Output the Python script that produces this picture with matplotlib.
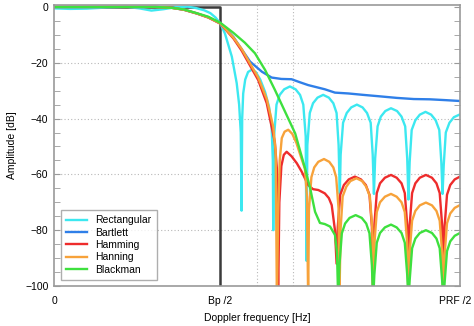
import matplotlib
matplotlib.use('Agg')
import matplotlib.pyplot as plt
from matplotlib.transforms import ScaledTranslation

####################################
# Data
# x is Doppler frequency as a fraction of PRF/2, y is amplitude in dB
####################################

bp_half = 0.409
x_ticks = [0.0, bp_half, 1.0]
x_ticklabels = ['0', 'Bp /2', 'PRF /2']
vgrid = [0.5, 0.589]

ideal_x = [0.0, bp_half, bp_half]
ideal_db = [0.0, 0.0, -100.0]

rect_x = [0.00, 0.04, 0.08, 0.13, 0.18, 0.21, 0.24, 0.27, 0.30, 0.33, 0.35, 0.37, 0.385, 0.398, 0.41, 0.421, 0.438, 0.450, 0.456, 0.460, 0.462,
          0.4635, 0.466, 0.471, 0.478, 0.487, 0.497, 0.508, 0.520, 0.530, 0.536, 0.539, 0.540,
          0.542, 0.548, 0.556, 0.567, 0.581, 0.595, 0.606, 0.614, 0.620, 0.622,
          0.624, 0.630, 0.638, 0.649, 0.663, 0.677, 0.688, 0.696, 0.701, 0.704,
          0.706, 0.712, 0.721, 0.732, 0.746, 0.760, 0.771, 0.780, 0.785, 0.788,
          0.791, 0.797, 0.805, 0.816, 0.830, 0.845, 0.856, 0.865, 0.870, 0.873,
          0.876, 0.881, 0.890, 0.901, 0.915, 0.929, 0.940, 0.949, 0.954, 0.957,
          0.960, 0.965, 0.974, 0.985, 1.000]
rect_db = [-0.5, -0.7, -0.6, -0.2, 0.0, -0.5, -1.3, -0.8, -0.1, 0.1, -0.4, -1.2, -2.2, -3.8, -6.0, -9.5, -17.8, -27.3, -35.0, -45.0, -73.0,
           -40.0, -31.0, -26.0, -23.3, -22.5, -23.3, -26.0, -30.5, -36.0, -43.0, -55.0, -80.0,
           -46.5, -35.0, -31.5, -29.5, -28.5, -29.5, -31.5, -35.0, -46.5, -91.0,
           -49.5, -38.0, -34.5, -32.5, -31.5, -32.5, -34.5, -38.0, -49.5, -67.0,
           -53.0, -41.5, -38.0, -36.0, -35.0, -36.0, -38.0, -41.5, -53.0, -67.0,
           -54.3, -42.8, -39.3, -37.3, -36.3, -37.3, -39.3, -42.8, -54.3, -69.0,
           -55.6, -44.1, -40.6, -38.6, -37.6, -38.6, -40.6, -44.1, -55.6, -67.0,
           -56.5, -45.0, -41.5, -39.5, -38.5]

bart_x = [0.00, 0.25, 0.29, 0.32, 0.351, 0.38, 0.41, 0.442, 0.483, 0.512, 0.536, 0.56, 0.585, 0.606, 0.626,
          0.667, 0.692, 0.725, 0.761, 0.80, 0.845, 0.886, 0.926, 0.965, 1.00]
bart_db = [0.0, 0.0, -0.3, -1.0, -2.3, -3.7, -5.9, -10.8, -19.6, -23.2, -25.3, -25.8, -25.9, -27.0, -28.0,
           -29.5, -30.7, -31.0, -31.5, -32.0, -32.6, -33.0, -33.1, -33.4, -33.7]

ham_x = [0.00, 0.25, 0.29, 0.32, 0.351, 0.38, 0.41, 0.442, 0.462, 0.503, 0.524, 0.536, 0.544, 0.549, 0.552,
         0.555, 0.560, 0.566, 0.573, 0.585, 0.598, 0.610, 0.626, 0.638, 0.651, 0.667, 0.677, 0.684, 0.692, 0.696,
         0.699, 0.705, 0.714, 0.726, 0.741, 0.756, 0.768, 0.777, 0.783, 0.786,
         0.789, 0.795, 0.803, 0.815, 0.830, 0.844, 0.856, 0.864, 0.870, 0.873,
         0.876, 0.882, 0.890, 0.901, 0.916, 0.931, 0.942, 0.950, 0.956, 0.959,
         0.962, 0.968, 0.976, 0.987, 1.000]
ham_db = [0.0, 0.0, -0.3, -1.0, -2.3, -3.8, -6.0, -11.3, -15.6, -26.2, -34.5, -42.9, -48.5, -58.0, -105.0,
          -70.0, -57.0, -53.0, -51.9, -53.5, -56.0, -59.0, -63.8, -65.3, -65.6, -66.8, -68.5, -71.0, -80.0, -92.0,
          -78.8, -67.3, -63.8, -61.8, -60.8, -61.8, -63.8, -67.3, -78.8, -105.0,
          -78.2, -66.7, -63.2, -61.2, -60.2, -61.2, -63.2, -66.7, -78.2, -105.0,
          -78.2, -66.7, -63.2, -61.2, -60.2, -61.2, -63.2, -66.7, -78.2, -105.0,
          -78.8, -67.3, -63.8, -61.8, -60.8]

han_x = [0.00, 0.25, 0.29, 0.32, 0.351, 0.38, 0.41, 0.442, 0.462, 0.503, 0.524, 0.540, 0.546, 0.549,
         0.552, 0.556, 0.561, 0.568, 0.577, 0.587, 0.597, 0.610, 0.618, 0.623, 0.626,
         0.628, 0.634, 0.641, 0.651, 0.665, 0.678, 0.688, 0.695, 0.701, 0.703,
         0.706, 0.711, 0.720, 0.730, 0.745, 0.759, 0.769, 0.778, 0.784, 0.786,
         0.789, 0.795, 0.803, 0.815, 0.830, 0.844, 0.856, 0.864, 0.870, 0.873,
         0.876, 0.882, 0.890, 0.901, 0.916, 0.931, 0.942, 0.950, 0.956, 0.959,
         0.962, 0.968, 0.976, 0.987, 1.000]
han_db = [0.0, 0.0, -0.3, -1.0, -2.3, -3.7, -5.9, -11.0, -15.0, -25.3, -33.0, -42.9, -52.0, -105.0,
          -75.0, -55.0, -47.0, -44.7, -44.0, -45.5, -48.7, -54.5, -58.0, -68.0, -105.0,
          -72.5, -61.0, -57.5, -55.5, -54.5, -55.5, -57.5, -61.0, -72.5, -105.0,
          -79.4, -67.9, -64.4, -62.4, -61.4, -62.4, -64.4, -67.9, -79.4, -105.0,
          -85.0, -73.5, -70.0, -68.0, -67.0, -68.0, -70.0, -73.5, -85.0, -105.0,
          -88.1, -76.6, -73.1, -71.1, -70.1, -71.1, -73.1, -76.6, -88.1, -105.0,
          -89.0, -77.5, -74.0, -72.0, -71.0]

black_x = [0.00, 0.25, 0.29, 0.32, 0.351, 0.38, 0.41, 0.442, 0.470, 0.495, 0.520, 0.544, 0.569, 0.594, 0.618, 0.631,
           0.643, 0.655, 0.667, 0.680, 0.692, 0.697, 0.700,
           0.703, 0.709, 0.717, 0.728, 0.743, 0.758, 0.769, 0.777, 0.783, 0.786,
           0.789, 0.795, 0.803, 0.815, 0.830, 0.844, 0.856, 0.864, 0.870, 0.873,
           0.876, 0.882, 0.890, 0.901, 0.916, 0.931, 0.942, 0.950, 0.956, 0.959,
           0.962, 0.968, 0.976, 0.987, 1.000]
black_db = [0.0, 0.0, -0.3, -0.9, -2.2, -3.5, -5.7, -9.3, -12.8, -16.6, -22.6, -29.7, -37.5, -45.3, -57.7, -65.0,
            -73.4, -77.4, -77.8, -78.7, -81.7, -88.0, -105.0,
            -92.6, -81.1, -77.6, -75.6, -74.6, -75.6, -77.6, -81.1, -92.6, -105.0,
            -96.0, -84.5, -81.0, -79.0, -78.0, -79.0, -81.0, -84.5, -96.0, -105.0,
            -98.0, -86.5, -83.0, -81.0, -80.0, -81.0, -83.0, -86.5, -98.0, -105.0,
            -99.0, -87.5, -84.0, -82.0, -81.0]

names = ['Rectangular', 'Bartlett', 'Hamming', 'Hanning', 'Blackman']
colours = ['#3ce8f0', '#2f7fe8', '#ee2c2c', '#f7a23a', '#3ee03e']
series = [(rect_x, rect_db), (bart_x, bart_db), (ham_x, ham_db), (han_x, han_db), (black_x, black_db)]

####################################
# Plot
####################################

plt.rcParams['font.family'] = ['Liberation Sans', 'DejaVu Sans']
frame_col = '#9a9a9a'

fig = plt.figure(figsize=(4.74, 3.26), dpi=100)
ax = fig.add_axes([54 / 474, 1 - 286 / 326, 406 / 474, 281 / 326])

# dotted grid
for y in [-20, -40, -60, -80]:
    ax.axhline(y, color='#b8b8b8', lw=0.8, ls=(0, (1, 2)), zorder=0)
for x in vgrid:
    ax.axvline(x, color='#b8b8b8', lw=0.8, ls=(0, (1, 2)), zorder=0)

# ideal filter
ax.plot(ideal_x, ideal_db, color='#3a3a3a', lw=1.8, zorder=1)

for (xs, ys), name, c in zip(series, names, colours):
    ax.plot(xs, ys, color=c, lw=1.7, label=name, zorder=2)

ax.set_xlim(0, 1)
ax.set_ylim(-100, 0.7)
ax.set_xticks(x_ticks)
ax.set_xticklabels(x_ticklabels)
ax.set_yticks([0, -20, -40, -60, -80, -100])
ax.set_yticklabels(['0', '\u221220', '\u221240', '\u221260', '\u221280', '\u2212100'])
ax.set_yticks(range(-95, 0, 5), minor=True)
ax.tick_params(axis='x', length=0, pad=7, labelsize=7.5)
ax.tick_params(axis='y', which='both', direction='in', length=4, color=frame_col,
               right=True, labelsize=7.5, pad=4)

# keep the last x label inside the picture
last = ax.get_xticklabels()[-1]
last.set_transform(last.get_transform() + ScaledTranslation(-0.05, 0, fig.dpi_scale_trans))

for s in ax.spines.values():
    s.set_color(frame_col)
    s.set_linewidth(1.2)

ax.set_xlabel('Doppler frequency [Hz]', fontsize=7.5, labelpad=5)
ax.set_ylabel('Amplitude [dB]', fontsize=7.5, labelpad=6)

leg = ax.legend(loc='upper left', bbox_to_anchor=(0.017, 0.27), borderaxespad=0,
                fontsize=7.5, frameon=True, fancybox=False, handlelength=2.0,
                labelspacing=0.22, borderpad=0.5, handletextpad=0.8)
leg.get_frame().set_edgecolor(frame_col)
leg.get_frame().set_linewidth(1.0)

fig.savefig('out.png', dpi=100)
